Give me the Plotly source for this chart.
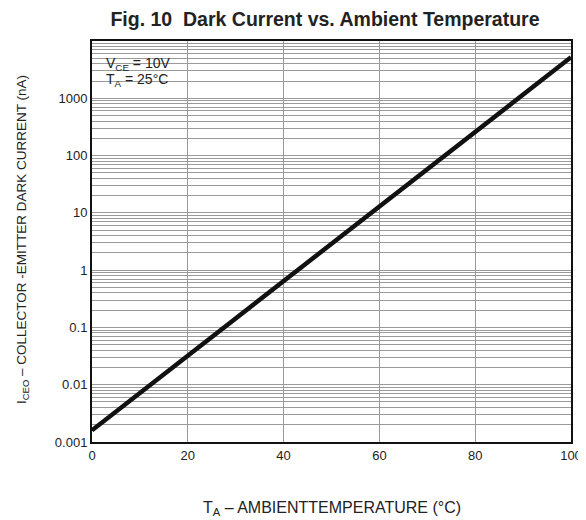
import plotly.graph_objects as go

# Data
temperature_c = [0, 20, 40, 60, 80, 100]
dark_current_na = [0.0016, 0.032, 0.65, 13, 260, 5200]

decades = [0.001, 0.01, 0.1, 1, 10, 100, 1000]
decade_labels = ["0.001", "0.01", "0.1", "1", "10", "100", "1000"]
x_ticks = [0, 20, 40, 60, 80, 100]

# build y ticks: all minor log positions, labels only on decades
y_tickvals = []
y_ticktext = []
for d, lab in zip(decades, decade_labels):
    for m in range(1, 10):
        y_tickvals.append(d * m)
        y_ticktext.append(lab if m == 1 else "")
y_tickvals.append(10000)
y_ticktext.append("")

# page has an 8px body margin; layout in page pixels
OFF = 8
W, H = 586 - OFF, 520 - OFF
PL, PR, PT, PB = 92, 571, 41, 442  # plot area in page pixels
PW, PH = PR - PL, PB - PT


def px(x):
    return (x - PL) / PW


def py(y):
    return 1 - (y - PT) / PH


fig = go.Figure()
fig.add_trace(go.Scatter(
    x=temperature_c, y=dark_current_na, mode="lines",
    line=dict(color="#111111", width=4.5), showlegend=False,
))

font = "Liberation Sans, Arial, sans-serif"
fig.update_layout(
    width=W, height=H,
    margin=dict(l=PL - OFF, r=W - (PR - OFF), t=PT - OFF, b=H - (PB - OFF), pad=0),
    paper_bgcolor="white", plot_bgcolor="white",
    font=dict(family=font, size=13, color="#222222"),
    title=dict(text="<b>Fig. 10  Dark Current vs. Ambient Temperature</b>",
               x=(325 - OFF) / W, xanchor="center", y=1 - (19 - OFF) / H, yanchor="middle",
               font=dict(size=19.5, color="#222222")),
)
fig.update_xaxes(
    range=[0, 100], tickvals=x_ticks, ticks="", showgrid=True,
    gridcolor="#9a9a9a", gridwidth=1, zeroline=False, automargin=False,
    showline=True, linecolor="#111111", linewidth=2, mirror=True,
    tickfont=dict(size=13), ticklabeloverflow="allow",
)
fig.update_yaxes(
    type="log", range=[-3, 4], tickvals=y_tickvals, ticktext=y_ticktext,
    ticks="", showgrid=True, gridcolor="#9a9a9a", gridwidth=1, zeroline=False,
    automargin=False,
    showline=True, linecolor="#111111", linewidth=2, mirror=True,
    tickfont=dict(size=13),
)
# axis titles
fig.add_annotation(
    xref="paper", yref="paper", x=px(332), y=py(509),
    xanchor="center", yanchor="middle", showarrow=False,
    text="T<sub>A</sub> – AMBIENTTEMPERATURE (°C)", font=dict(size=16),
)
fig.add_annotation(
    xref="paper", yref="paper", x=px(22), y=py(240),
    xanchor="center", yanchor="middle", showarrow=False, textangle=-90,
    text="I<sub>CEO</sub> – COLLECTOR -EMITTER DARK CURRENT (nA)", font=dict(size=13.5),
)
# condition box
fig.add_shape(
    type="rect", xref="paper", yref="paper",
    x0=px(100), x1=px(172), y0=py(87), y1=py(57),
    fillcolor="white", line=dict(width=0), layer="between",
)
fig.add_annotation(
    xref="paper", yref="paper", x=px(104), y=py(64),
    xanchor="left", yanchor="middle", showarrow=False,
    text="V<sub>CE</sub> = 10V", font=dict(size=14),
)
fig.add_annotation(
    xref="paper", yref="paper", x=px(104), y=py(80),
    xanchor="left", yanchor="middle", showarrow=False,
    text="T<sub>A</sub> = 25°C", font=dict(size=14),
)
fig.write_html("out.html")
